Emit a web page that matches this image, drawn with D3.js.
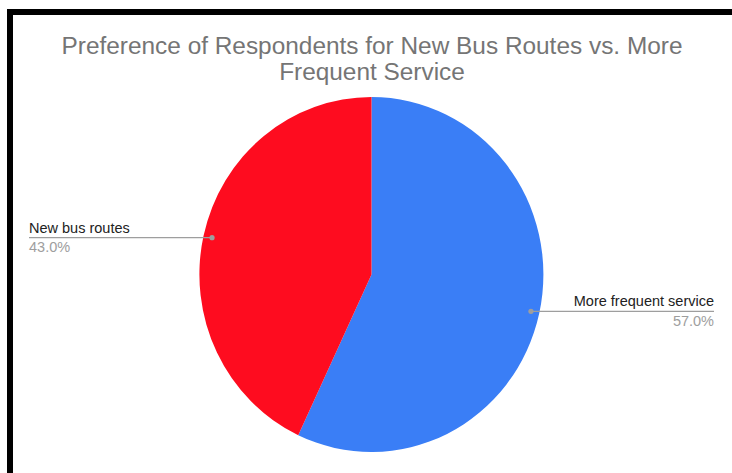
<!DOCTYPE html>
<html>
<head>
<meta charset="utf-8">
<script src="https://cdn.jsdelivr.net/npm/d3@7"></script>
<style>
  html, body { margin: 0; padding: 0; background: #fff; }
  svg { display: block; }
  text { font-family: "Liberation Sans", Arial, sans-serif; }
</style>
</head>
<body>
<script>
// Survey result: preference between new routes and more frequent service
const categories = ["More frequent service", "New bus routes"];
const shares = [57.0, 43.0];
const colors = ["#3a7ef6", "#fe0c1f"];
const titleLines = ["Preference of Respondents for New Bus Routes vs. More", "Frequent Service"];

const W = 732, H = 473;
const svg = d3.select("body").append("svg").attr("width", W).attr("height", H);

svg.append("rect").attr("width", W).attr("height", H).attr("fill", "#fff");

// frame edges
svg.append("rect").attr("x", 7).attr("y", 9).attr("width", W - 7).attr("height", 6).attr("fill", "#000");
svg.append("rect").attr("x", 7).attr("y", 9).attr("width", 6).attr("height", H - 9).attr("fill", "#000");

// title
svg.append("g").selectAll("text").data(titleLines).join("text")
  .attr("x", 372).attr("y", (d, i) => 54 + i * 25.5)
  .attr("text-anchor", "middle")
  .attr("font-size", 24.4)
  .attr("fill", "#757575")
  .text(d => d);

// pie
const cx = 371.5, cy = 274.5, rx = 172, ry = 177.5;
const pie = d3.pie().sort(null).value(d => d)(shares);
const arc = d3.arc().innerRadius(0).outerRadius(1);

const g = svg.append("g").attr("transform", `translate(${cx},${cy}) scale(${rx},${ry})`);
g.selectAll("path").data(pie).join("path")
  .attr("d", arc)
  .attr("fill", (d, i) => colors[i]);

// leader lines and labels
const labelInfo = pie.map((d, i) => {
  const a = (d.startAngle + d.endAngle) / 2;
  const px = cx + Math.sin(a) * rx * 0.95;
  const py = cy - Math.cos(a) * ry * 0.95;
  const right = Math.sin(a) > 0;
  return { name: categories[i], value: shares[i], px, py, right };
});

const lg = svg.append("g");
labelInfo.forEach(l => {
  const endX = l.right ? 714 : 29;
  lg.append("line")
    .attr("x1", l.px).attr("y1", l.py).attr("x2", endX).attr("y2", l.py)
    .attr("stroke", "#9e9e9e").attr("stroke-width", 1.2);
  lg.append("circle").attr("cx", l.px).attr("cy", l.py).attr("r", 2.6).attr("fill", "#9e9e9e");
  lg.append("text")
    .attr("x", endX).attr("y", l.py - 5)
    .attr("text-anchor", l.right ? "end" : "start")
    .attr("font-size", 14.5).attr("fill", "#222")
    .text(l.name);
  lg.append("text")
    .attr("x", endX).attr("y", l.py + 14.5)
    .attr("text-anchor", l.right ? "end" : "start")
    .attr("font-size", 14.5).attr("fill", "#9e9e9e")
    .text(d3.format(".1f")(l.value) + "%");
});
</script>
</body>
</html>
